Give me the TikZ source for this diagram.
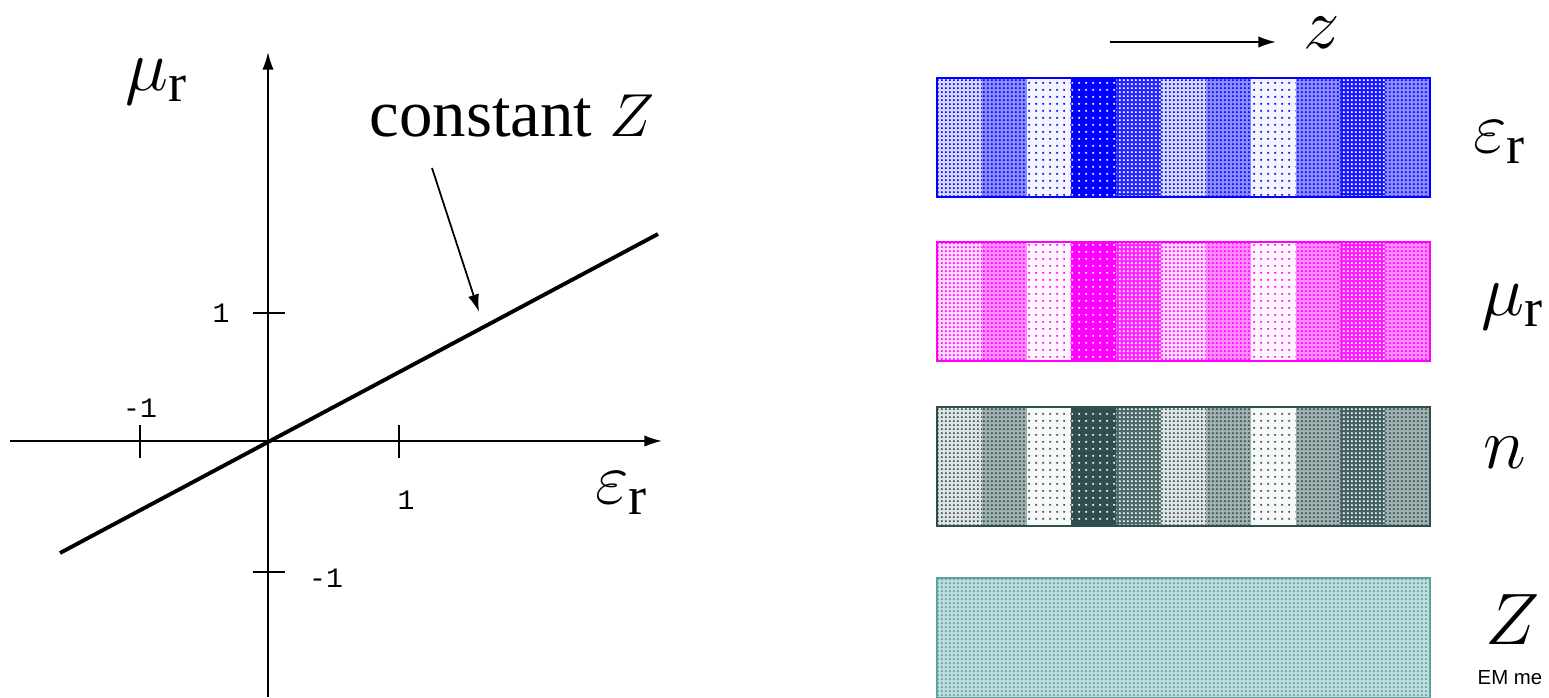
\documentclass[tikz,border=0pt]{standalone}
\usepackage{fontspec}
\setmainfont{Liberation Serif}
\setsansfont{Liberation Sans}
\setmonofont{Liberation Mono}
\usetikzlibrary{arrows.meta,positioning,patterns.meta}
\definecolor{epsblue}{RGB}{0,0,255}
\definecolor{mumag}{RGB}{255,0,255}
\definecolor{nslate}{RGB}{47,79,79}
\definecolor{zteal}{RGB}{95,160,160}
\definecolor{zfill}{RGB}{190,220,220}
% fine halftone textures for the slabs
\tikzdeclarepattern{
  name=finedots, type=uncolored,
  bottom left={(0pt,0pt)}, top right={(1.1pt,1.1pt)},
  tile size={(1.1pt,1.1pt)},
  code={\pgfpathcircle{\pgfqpoint{0.55pt}{0.55pt}}{0.3pt}\pgfusepath{fill}}
}
\tikzdeclarepattern{
  name=sparsedots, type=uncolored,
  bottom left={(0pt,0pt)}, top right={(2pt,2pt)},
  tile size={(2pt,2pt)},
  code={\pgfpathcircle{\pgfqpoint{1pt}{1pt}}{0.36pt}\pgfusepath{fill}}
}
\tikzset{
  axis/.style={line width=0.5pt, -{Latex[length=5pt,width=3.2pt]}},
  tick/.style={line width=0.5pt},
  ticklabel/.style={font=\ttfamily\fontsize{8}{9}\selectfont, inner sep=1pt},
  biglabel/.style={font=\fontsize{22}{26}\selectfont, inner sep=0pt},
  slabframe/.style={line width=0.7pt}
}

\begin{document}
\begin{tikzpicture}[x=0.01cm, y=-0.01cm]
      \useasboundingbox (0,0) rectangle (1549,697);
      % Axes
      \coordinate (O) at (268,441);
      \coordinate (xl) at (10,441);
      \coordinate (xr) at (662,441);
      \coordinate (yb) at (268,697);
      \coordinate (yt) at (268,52);
      \draw[axis] (xl) -- (xr);
      \draw[axis] (yb) -- (yt);
      \node[biglabel] (mur) at (157,82) {$\mu_{\mathrm{r}}$};
      \node[biglabel] (epsr) at (622,493) {$\varepsilon_{\mathrm{r}}$};
      % Tick marks
      \draw[tick] (140,425) -- (140,458);
      \draw[tick] (399,425) -- (399,458);
      \draw[tick] (253,313) -- (285,313);
      \draw[tick] (253,572) -- (285,572);
      \node[ticklabel] (xneg) at (140,408) {-1};
      \node[ticklabel] (xpos) at (406,500) {1};
      \node[ticklabel] (ypos) at (221,313) {1};
      \node[ticklabel] (yneg) at (326,578) {-1};
      % Line of constant Z through the origin
      \coordinate (lineA) at (60,553);
      \coordinate (lineB) at (658,234);
      \draw[line width=1.1pt] (lineA) -- (lineB);
      \node[font=\fontsize{19}{22}\selectfont, inner sep=0pt] (cz) at (512,116) {constant $Z$};
      \coordinate (czfoot) at (432,168);
      \coordinate (hit) at (479,312);
      \draw[axis] (czfoot) -- (hit);
      % Direction z
      \coordinate (za) at (1110,42);
      \coordinate (zb) at (1276,42);
      \draw[axis] (za) -- (zb);
      \node[biglabel] (zlab) at (1322,33) {$z$};
      % Layered slabs
      \foreach \top/\col in {78/epsblue, 242/mumag, 407/nslate} {
        \foreach \base/\pat/\pw [count=\i from 0] in
          {15/finedots/100, 45/finedots/100, 4/sparsedots/100, 100/sparsedots/0,
           85/finedots/0, 15/finedots/100, 45/finedots/100, 4/sparsedots/100,
           45/finedots/100, 90/finedots/0, 45/finedots/100}
          \fill[\col!\base, postaction={pattern={\pat}, pattern color=\col!\pw!white}]
            (937+\i*44.82,\top) rectangle ++(44.82,119);
        \draw[\col, slabframe] (937,\top) rectangle ++(493,119);
      }
      % Impedance stays uniform
      \draw[zteal, fill=zfill, slabframe, postaction={pattern=finedots, pattern color=zteal}]
        (937,578) rectangle (1430,698);
      \draw[zteal, slabframe] (937,578) rectangle (1430,698);
      \node[biglabel] (epslab) at (1500,142) {$\varepsilon_{\mathrm{r}}$};
      \node[biglabel] (mulab) at (1513,307) {$\mu_{\mathrm{r}}$};
      \node[biglabel] (nlab) at (1505,453) {$n$};
      \node[biglabel] (zedlab) at (1513,620) {$Z$};
      \node[font=\sffamily\fontsize{5.8}{7}\selectfont, inner sep=0pt] (em) at (1510,678) {EM me};
    \end{tikzpicture}
\end{document}
